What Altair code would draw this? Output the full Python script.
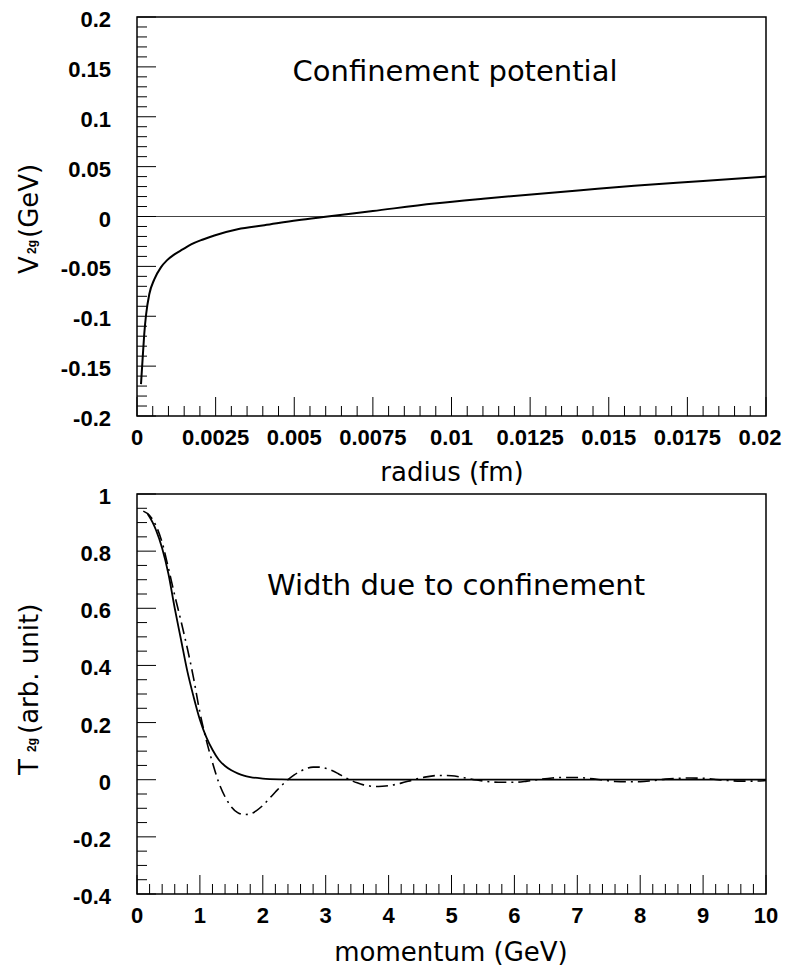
import altair as alt
import pandas as pd

# ---------------- data ----------------
# top panel: confinement potential V_2g(r)
radius = [0.000127, 0.00018, 0.00023, 0.00029, 0.00039, 0.00055, 0.00076, 0.00095,
          0.00119, 0.00145, 0.00172, 0.0021, 0.00246, 0.0032, 0.00405, 0.0051,
          0.00606, 0.0075, 0.00945, 0.0110, 0.01263, 0.0142, 0.01581, 0.0180, 0.0200]
v2g = [-0.168, -0.142, -0.118, -0.098, -0.078, -0.063, -0.051, -0.044,
       -0.038, -0.033, -0.028, -0.023, -0.019, -0.0128, -0.0088, -0.0037,
       0.0, 0.0055, 0.013, 0.0178, 0.0224, 0.0266, 0.0308, 0.0355, 0.040]

# bottom panel: width due to confinement T_2g(p)
p_solid = [0.17, 0.25, 0.3, 0.4, 0.5, 0.6, 0.7, 0.8, 0.9, 1.0, 1.1, 1.2, 1.3, 1.4,
           1.5, 1.6, 1.7, 1.8, 2.0, 2.3, 2.6, 3.0, 4.0, 5.0, 6.0, 7.0, 8.0, 9.0, 10.0]
t_solid = [0.93, 0.90, 0.875, 0.81, 0.72, 0.60, 0.49, 0.38, 0.29, 0.21, 0.15, 0.105,
           0.07, 0.048, 0.033, 0.022, 0.014, 0.009, 0.004, 0.001, 0.0, 0.0, 0.0, 0.0,
           0.0, 0.0, 0.0, 0.0, 0.0]

p_dash = [0.1, 0.2, 0.3, 0.4, 0.5, 0.6, 0.7, 0.8, 0.9, 1.0, 1.1, 1.2, 1.3, 1.4, 1.5,
          1.6, 1.7, 1.8, 1.9, 2.0, 2.1, 2.2, 2.3, 2.4, 2.5, 2.6, 2.7, 2.8, 2.9, 3.0,
          3.1, 3.2, 3.3, 3.4, 3.5, 3.6, 3.7, 3.8, 3.9, 4.0, 4.2, 4.4, 4.6, 4.8, 5.0,
          5.2, 5.4, 5.6, 5.8, 6.0, 6.2, 6.4, 6.6, 6.8, 7.0, 7.2, 7.4, 7.6, 7.8, 8.0,
          8.2, 8.4, 8.6, 8.8, 9.0, 9.2, 9.4, 9.6, 9.8, 10.0]
t_dash = [0.94, 0.925, 0.89, 0.83, 0.74, 0.645, 0.555, 0.46, 0.355, 0.235, 0.14, 0.06,
          -0.01, -0.06, -0.095, -0.115, -0.122, -0.12, -0.108, -0.09, -0.067, -0.043,
          -0.02, 0.0, 0.017, 0.03, 0.04, 0.044, 0.044, 0.04, 0.032, 0.021, 0.009,
          -0.002, -0.011, -0.018, -0.022, -0.024, -0.023, -0.021, -0.012, 0.0, 0.01,
          0.015, 0.014, 0.007, -0.001, -0.007, -0.009, -0.009, -0.005, 0.001, 0.006,
          0.008, 0.008, 0.004, -0.001, -0.006, -0.007, -0.007, -0.003, 0.002, 0.005,
          0.006, 0.005, 0.001, -0.003, -0.005, -0.005, -0.003]

# axis ticks / labels
top_x_major = [0, 0.0025, 0.005, 0.0075, 0.01, 0.0125, 0.015, 0.0175, 0.02]
top_x_labels = ["0", "0.0025", "0.005", "0.0075", "0.01", "0.0125", "0.015", "0.0175", "0.02"]
top_y_major = [-0.2, -0.15, -0.1, -0.05, 0, 0.05, 0.1, 0.15, 0.2]
top_y_labels = ["-0.2", "-0.15", "-0.1", "-0.05", "0", "0.05", "0.1", "0.15", "0.2"]
bot_x_major = [0, 1, 2, 3, 4, 5, 6, 7, 8, 9, 10]
bot_x_labels = ["0", "1", "2", "3", "4", "5", "6", "7", "8", "9", "10"]
bot_y_major = [-0.4, -0.2, 0, 0.2, 0.4, 0.6, 0.8, 1.0]
bot_y_labels = ["-0.4", "-0.2", "0", "0.2", "0.4", "0.6", "0.8", "1"]
top_x_minor = [round(i * 0.0005, 5) for i in range(41) if i % 5]
top_y_minor = [round(-0.2 + i * 0.01, 3) for i in range(41) if i % 5]
bot_x_minor = [round(i * 0.2, 1) for i in range(51) if i % 5]
bot_y_minor = [round(-0.4 + i * 0.05, 2) for i in range(29) if i % 4]

W = 629
H1 = 399
H2 = 400
MAJ = 19
MIN = 10

LABEL_FONT = "Liberation Sans"
TITLE_FONT = "DejaVu Sans"


def text_mark(s, x, y, size, font=TITLE_FONT, weight="normal", angle=0,
              align="center", baseline="alphabetic"):
    return alt.Chart(pd.DataFrame({"t": [s]})).mark_text(
        font=font, fontSize=size, fontWeight=weight, angle=angle,
        align=align, baseline=baseline, color="black"
    ).encode(text="t:N", x=alt.value(x), y=alt.value(y))


def ticks(values, field, scale, orient, length, height):
    df = pd.DataFrame({field: values})
    base = alt.Chart(df).mark_rule(color="black", strokeWidth=1)
    if orient == "x":
        return base.encode(
            x=alt.X(f"{field}:Q", scale=scale, axis=None),
            y=alt.value(height), y2=alt.value(height - length))
    return base.encode(
        y=alt.Y(f"{field}:Q", scale=scale, axis=None),
        x=alt.value(0), x2=alt.value(length))


def labels(values, texts, field, scale, orient, height, dx=0):
    df = pd.DataFrame({field: values, "lab": texts})
    if orient == "x":
        return alt.Chart(df).mark_text(
            font=LABEL_FONT, fontSize=22, fontWeight="bold", color="black",
            align="center", baseline="top", dx=dx
        ).encode(x=alt.X(f"{field}:Q", scale=scale, axis=None),
                 y=alt.value(height + 12), text="lab:N")
    return alt.Chart(df).mark_text(
        font=LABEL_FONT, fontSize=22, fontWeight="bold", color="black",
        align="right", baseline="middle", dy=3
    ).encode(y=alt.Y(f"{field}:Q", scale=scale, axis=None),
             x=alt.value(-26), text="lab:N")


# ---------------- top panel ----------------
sx1 = alt.Scale(domain=[0, 0.02], nice=False, zero=False)
sy1 = alt.Scale(domain=[-0.2, 0.2], nice=False, zero=False)

top_df = pd.DataFrame({"r": radius, "v": v2g})
top_line = alt.Chart(top_df).mark_line(
    color="black", strokeWidth=2, interpolate="monotone"
).encode(
    x=alt.X("r:Q", scale=sx1, axis=None),
    y=alt.Y("v:Q", scale=sy1, axis=None),
)
zero_line = alt.Chart(pd.DataFrame({"z": [0]})).mark_rule(
    color="#444", strokeWidth=1.2
).encode(y=alt.Y("z:Q", scale=sy1, axis=None))

top = alt.layer(
    zero_line,
    top_line,
    ticks(top_x_major, "a", sx1, "x", MAJ, H1),
    ticks(top_x_minor, "b", sx1, "x", MIN, H1),
    ticks(top_y_major, "c", sy1, "y", MAJ, H1),
    ticks(top_y_minor, "d", sy1, "y", MIN, H1),
    labels(top_x_major[:-1], top_x_labels[:-1], "e", sx1, "x", H1),
    labels(top_x_major[-1:], top_x_labels[-1:], "e", sx1, "x", H1, dx=-6),
    labels(top_y_major, top_y_labels, "f", sy1, "y", H1),
    text_mark("Confinement potential", 318, 64, 29),
    text_mark("radius (fm)", 315, H1 + 65, 26),
    text_mark("V", -99, 257, 26, angle=270, align="left"),
    text_mark("2g", -101, 237, 12, font=LABEL_FONT, weight="bold", angle=270, align="left"),
    text_mark("(GeV)", -99, 221, 26, angle=270, align="left"),
).properties(width=W, height=H1)

# ---------------- bottom panel ----------------
sx2 = alt.Scale(domain=[0, 10], nice=False, zero=False)
sy2 = alt.Scale(domain=[-0.4, 1.0], nice=False, zero=False)

solid_df = pd.DataFrame({"p": p_solid, "t": t_solid})
dash_df = pd.DataFrame({"p": p_dash, "t": t_dash})

solid_line = alt.Chart(solid_df).mark_line(
    color="black", strokeWidth=1.8, interpolate="monotone"
).encode(
    x=alt.X("p:Q", scale=sx2, axis=None),
    y=alt.Y("t:Q", scale=sy2, axis=None),
)
dash_line = alt.Chart(dash_df).mark_line(
    color="black", strokeWidth=1.6, strokeDash=[12, 5, 2, 5], interpolate="monotone"
).encode(
    x=alt.X("p:Q", scale=sx2, axis=None),
    y=alt.Y("t:Q", scale=sy2, axis=None),
)

bottom = alt.layer(
    solid_line,
    dash_line,
    ticks(bot_x_major, "a", sx2, "x", MAJ, H2),
    ticks(bot_x_minor, "b", sx2, "x", MIN, H2),
    ticks(bot_y_major, "c", sy2, "y", MAJ, H2),
    ticks(bot_y_minor, "d", sy2, "y", MIN, H2),
    labels(bot_x_major, bot_x_labels, "e", sx2, "x", H2),
    labels(bot_y_major, bot_y_labels, "f", sy2, "y", H2),
    text_mark("Width due to confinement", 319, 101, 29),
    text_mark("momentum (GeV)", 314, H2 + 67, 26),
    text_mark("T", -99, 281, 26, angle=270, align="left"),
    text_mark("2g", -101, 258, 12, font=LABEL_FONT, weight="bold", angle=270, align="left"),
    text_mark("(arb. unit)", -99, 240, 26, angle=270, align="left"),
).properties(width=W, height=H2)

chart = alt.vconcat(top, bottom, spacing=78, bounds="flush").properties(
    padding={"left": 8, "top": 0, "right": 0, "bottom": 0},
    background="white",
).configure_view(
    stroke="black", strokeWidth=1.5
)

chart.save("out.html", embed_options={"renderer": "svg", "actions": False})
